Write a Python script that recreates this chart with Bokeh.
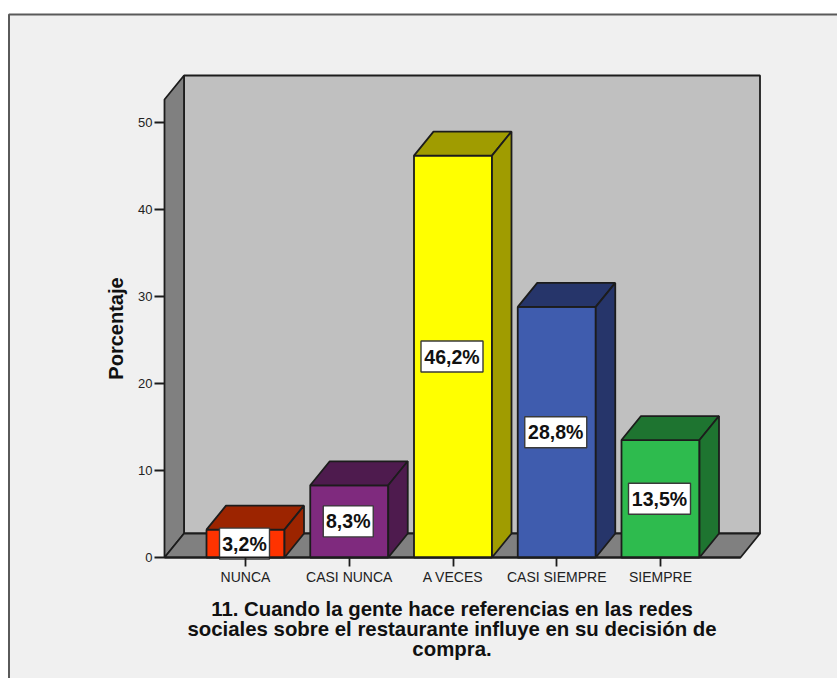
from bokeh.plotting import figure
from bokeh.models import BoxAnnotation, FixedTicker, Label, LinearAxis, Range1d
from bokeh.core.properties import value
from bokeh.embed import file_html
from bokeh.resources import INLINE
import math

categories = ["NUNCA", "CASI NUNCA", "A VECES", "CASI SIEMPRE", "SIEMPRE"]
percentages = [3.2, 8.3, 46.2, 28.8, 13.5]
front_colors = ["#FF3300", "#7F2A7E", "#FFFF00", "#3F5CAE", "#2EBB4E"]
shade_colors = ["#9C2400", "#4E1B4E", "#A09C00", "#26356A", "#1E7430"]
y_ticks = [0, 10, 20, 30, 40, 50]
title_lines = [
    "11. Cuando la gente hace referencias en las redes",
    "sociales sobre el restaurante influye en su decisión de",
    "compra.",
]

# Scale of the chart: pixels per category step and per percentage point
PX_X = 103.75
PX_Y = 8.7
BAR_HALF = 39.0 / PX_X
DEPTH_X = 19.5 / PX_X
DEPTH_Y = 24.0 / PX_Y
WALL_LEFT = 1 - 81.0 / PX_X
FLOOR_RIGHT = 1 + 495.0 / PX_X
WALL_TOP = 458.0 / PX_Y
EDGE = "#1c1c1c"
FONT = "Liberation Sans"

# The frame fills the whole page; the axes are pinned inside it
p = figure(
    width=837, height=678, output_backend="svg", toolbar_location=None,
    x_axis_location=None, y_axis_location=None,
    x_range=Range1d(1 - 245.0 / PX_X, 1 + 592.0 / PX_X),
    y_range=Range1d(-121.0 / PX_Y, 557.0 / PX_Y),
    min_border=0,
    border_fill_color="white", background_fill_color="white", outline_line_color=None,
)
p.grid.visible = False

# Chart area panel with its dark outline
p.add_layout(BoxAnnotation(
    left=8.5, right=900, top=14, bottom=900,
    left_units="canvas", right_units="canvas", top_units="canvas", bottom_units="canvas",
    fill_color="#F0F0F0", fill_alpha=1, line_color="#5a5a5a", line_alpha=1, line_width=2,
    level="underlay",
))

# Back wall, side wall and floor of the 3D box
bx, by = WALL_LEFT + DEPTH_X, DEPTH_Y
p.patch([bx, FLOOR_RIGHT + DEPTH_X, FLOOR_RIGHT + DEPTH_X, bx],
        [by, by, WALL_TOP + by, WALL_TOP + by],
        fill_color="#C0C0C0", line_color=EDGE, line_width=1.8)
p.patch([WALL_LEFT, bx, bx, WALL_LEFT],
        [0, by, WALL_TOP + by, WALL_TOP],
        fill_color="#808080", line_color=EDGE, line_width=1.8)
p.patch([WALL_LEFT, FLOOR_RIGHT, FLOOR_RIGHT + DEPTH_X, bx],
        [0, 0, by, by],
        fill_color="#808080", line_color=EDGE, line_width=1.8)

# Bars: front face, top face and right face
for i, v in enumerate(percentages):
    x0, x1 = i + 1 - BAR_HALF, i + 1 + BAR_HALF
    p.quad(left=x0, right=x1, bottom=0, top=v,
           fill_color=front_colors[i], line_color=EDGE, line_width=1.8)
    p.patch([x0, x1, x1 + DEPTH_X, x0 + DEPTH_X],
            [v, v, v + DEPTH_Y, v + DEPTH_Y],
            fill_color=shade_colors[i], line_color=EDGE, line_width=1.8)
    p.patch([x1, x1 + DEPTH_X, x1 + DEPTH_X, x1],
            [0, DEPTH_Y, v + DEPTH_Y, v],
            fill_color=shade_colors[i], line_color=EDGE, line_width=1.8)

# Value boxes centred on each bar
for i, v in enumerate(percentages):
    text = f"{v:.1f}%".replace(".", ",")
    box_w = 62 if v >= 10 else 50
    p.rect(x=i + 1 - 1.0 / PX_X, y=v / 2, width=box_w, height=31,
           width_units="screen", height_units="screen",
           fill_color="white", line_color="#3a3a3a", line_width=1.4)
    p.text(x=[i + 1 - 1.0 / PX_X], y=[v / 2], text=[text],
           text_font=value(FONT), text_font_style="bold", text_font_size="19.5px",
           text_color="#111111", text_align="center", text_baseline="middle")

# Axes
left = LinearAxis(ticker=FixedTicker(ticks=y_ticks), fixed_location=WALL_LEFT, bounds=(0, 50))
left.major_tick_in = 0
left.major_tick_out = 10
left.minor_tick_line_color = None
left.axis_line_color = None
left.major_tick_line_color = EDGE
left.major_tick_line_width = 1.8
left.major_label_text_font = FONT
left.major_label_text_font_size = "13px"
left.major_label_text_color = "#222222"
left.major_label_standoff = 2
p.add_layout(left, "left")

bottom = LinearAxis(
    ticker=FixedTicker(ticks=[i + 1 for i in range(len(categories))]),
    fixed_location=0, bounds=(WALL_LEFT, FLOOR_RIGHT),
    major_label_overrides={i + 1: c for i, c in enumerate(categories)},
)
bottom.major_tick_in = 0
bottom.major_tick_out = 9
bottom.minor_tick_line_color = None
bottom.axis_line_color = EDGE
bottom.axis_line_width = 2
bottom.major_tick_line_color = EDGE
bottom.major_tick_line_width = 1.8
bottom.major_label_text_font = FONT
bottom.major_label_text_font_size = "14px"
bottom.major_label_text_color = "#222222"
bottom.major_label_standoff = 2
p.add_layout(bottom, "below")

# Axis title and multi-line chart caption
p.add_layout(Label(
    x=1 - 130.0 / PX_X, y=(557 - 328) / PX_Y, text="Porcentaje", angle=math.pi / 2,
    text_font=FONT, text_font_style="bold", text_font_size="20px", text_color="#111111",
    text_align="center", text_baseline="middle",
))
for n, line in enumerate(title_lines):
    p.add_layout(Label(
        x=3 - 1.0 / PX_X, y=(557 - (608 + 20 * n)) / PX_Y, text=line,
        text_font=FONT, text_font_style="bold", text_font_size="20.4px", text_color="#111111",
        text_align="center", text_baseline="middle",
    ))

open("out.html", "w").write(file_html(p, INLINE))
